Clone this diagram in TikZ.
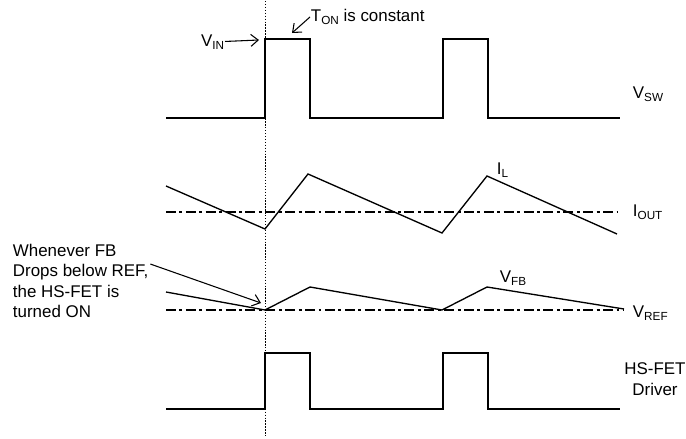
\documentclass[tikz,border=0pt]{standalone}
\usepackage{fontspec}
\setmainfont{Liberation Sans}
\usepackage{tikz}
\usetikzlibrary{arrows.meta}
\newcommand\lowsub[1]{\raisebox{-2pt}{\fontsize{8.8}{9}\selectfont #1}}

\begin{document}
\begin{tikzpicture}[
  x=0.75pt, y=-0.75pt,
  wave/.style={line width=1pt, line join=miter},
  level/.style={line width=1pt, dash pattern=on 7.5pt off 2.6pt on 2.2pt off 2.6pt},
  guide/.style={line width=0.7pt, dash pattern=on 1pt off 1.2pt},
  pointer/.style={line width=0.8pt, -{Straight Barb[length=5.5pt, width=9pt]}},
  lbl/.style={inner sep=0.5pt, font=\fontsize{12.7}{15.4}\selectfont}
]
  \useasboundingbox (0,0) rectangle (686,439);

  % pulse trains: switch node and HS-FET driver
  \foreach \lo/\hi in {118/39, 409/353}
    \draw[wave] (166,\lo) -- (265,\lo) -- (265,\hi) -- (310,\hi) -- (310,\lo) -- (443,\lo)
      -- (443,\hi) -- (488,\hi) -- (488,\lo) -- (620,\lo);

  % inductor current and feedback voltage
  \draw[level] (166,212) -- (618,212);
  \draw[wave] (166,186) -- (265,229) -- (308,174) -- (442,233) -- (487,176) -- (617,234);
  \draw[level] (166,310) -- (624,310);
  \draw[wave] (166,292) -- (265,310) -- (310,287) -- (442,310) -- (487,287) -- (624,309);

  \draw[guide] (265,1) -- (265,438);

  \node[lbl, anchor=west] (vsw) at (632,94) {V\lowsub{SW}};
  \node[lbl, anchor=west] (il) at (496,170) {I\lowsub{L}};
  \node[lbl, anchor=west] (iout) at (632,212) {I\lowsub{OUT}};
  \node[lbl, anchor=west] (vfb) at (499,278) {V\lowsub{FB}};
  \node[lbl, anchor=west] (vref) at (632,313) {V\lowsub{REF}};
  \node[lbl, align=center] (drv) at (655,379) {HS-FET\\Driver};

  \node[lbl, anchor=east] (vin) at (225,42) {V\lowsub{IN}};
  \coordinate (vintip) at (259,40);
  \draw[pointer] (vin) -- (vintip);

  \node[lbl, anchor=west] (ton) at (310,17) {T\lowsub{ON} is constant};
  \coordinate (tontip) at (292,33);
  \draw[pointer] (ton.west) -- (tontip);

  \node[lbl, anchor=west, align=left] (fb) at (12,281)
    {Whenever FB\\Drops below REF,\\the HS-FET is\\turned ON};
  \coordinate (fbtip) at (261,303);
  \draw[pointer] ([shift={(1,21)}]fb.north east) -- (fbtip);
\end{tikzpicture}
\end{document}
